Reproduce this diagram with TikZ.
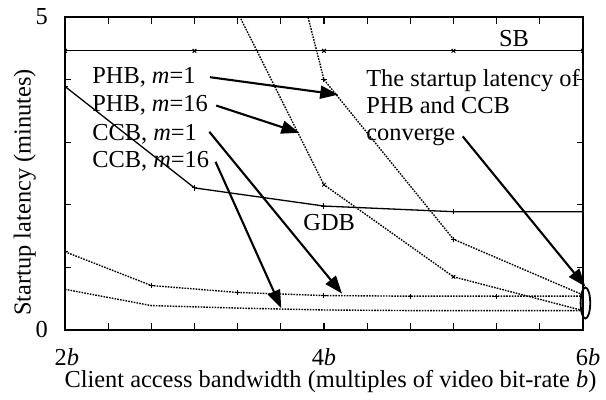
\documentclass[tikz,border=0pt]{standalone}
\usepackage{fontspec}
\setmainfont{Liberation Serif}
\usetikzlibrary{arrows.meta,shapes.geometric}
\tikzset{
  axisframe/.style={line width=0.9pt},
  tickline/.style={line width=0.6pt},
  solidcurve/.style={line width=0.65pt},
  dotcurve/.style={line width=0.7pt,dash pattern=on 0.8pt off 0.6pt},
  ptmark/.style={mark options={solid,line width=0.5pt},mark size=1.3pt},
  callout/.style={line width=1.05pt,-{Triangle[length=9pt,width=6.5pt]}},
  lab/.style={font=\fontsize{12.2}{14}\selectfont,inner sep=0pt},
  every picture/.style={x=64.75pt,y=31.3pt}
}
\begin{document}
\begin{tikzpicture}
  \useasboundingbox (1.498,-1.118) rectangle (6.178,5.272);
  % latency curves, cut off at the plot area
  \begin{scope}
    \clip (2,0) rectangle (6,5);
    \draw[solidcurve] plot[mark=x,ptmark] coordinates {(2,4.46) (3,4.46) (4,4.46) (5,4.46) (6,4.46)}; % SB
    \draw[solidcurve] plot[mark=+,ptmark] coordinates {(2,3.89) (3,2.27) (4,1.98) (5,1.89) (6,1.89)}; % GDB
    \draw[dotcurve] plot[mark=+,ptmark] coordinates {(3,12.1) (4,4.0) (5,1.45) (6,0.56)}; % PHB m=1
    \draw[dotcurve] plot[mark=x,ptmark] coordinates {(3,6.45) (4,2.32) (5,0.85) (6,0.31)}; % PHB m=16
    \draw[dotcurve] plot[mark=+,ptmark] coordinates {(2,1.25) (2.667,0.71) (3.333,0.6) (4,0.55) (4.667,0.54) (5.333,0.54) (6,0.54)}; % CCB m=1
    \draw[dotcurve] plot[mark=square,ptmark,mark size=1pt] coordinates {(2,0.65) (2.667,0.39) (3.333,0.35) (4,0.32) (4.667,0.31) (5.333,0.31) (6,0.31)}; % CCB m=16
  \end{scope}
  % axes box and ticks
  \draw[axisframe] (2,0) rectangle (6,5);
  \foreach \i in {1,...,11} {
    \draw[tickline] (2+\i/3,0) -- ++(0,3.3pt);
    \draw[tickline] (2+\i/3,5) -- ++(0,-3.3pt);
  }
  \foreach \v in {1,...,4} {
    \draw[tickline] (2,\v) -- ++(3pt,0); \draw[tickline] (6,\v) -- ++(-3pt,0);
  }
  \node[lab] (y5) at (1.82,5) {5}; \node[lab] (y0) at (1.82,0) {0};
  \node[lab] (x2) at (2.015,-0.43) {2\textit{b}};
  \node[lab] (x4) at (4,-0.43) {4\textit{b}};
  \node[lab] (x6) at (6.04,-0.43) {6\textit{b}};
  \node[lab] (xlab) at (4.05,-0.83) {Client access bandwidth (multiples of video bit-rate \textit{b})};
  \node[lab,rotate=90] (ylab) at (1.69,2.2) {Startup latency (minutes)};
  \node[lab] (sb) at (5.467,4.66) {SB};
  \node[lab] (gdb) at (4.04,1.72) {GDB};
  % curve names and their pointers
  \node[lab,anchor=base west] (phb1) at (2.208,3.94) {PHB, \textit{m}=1};
  \node[lab,anchor=base west] (phb16) at (2.208,3.487) {PHB, \textit{m}=16};
  \node[lab,anchor=base west] (ccb1) at (2.208,3.035) {CCB, \textit{m}=1};
  \node[lab,anchor=base west] (ccb16) at (2.208,2.588) {CCB, \textit{m}=16};
  \coordinate (phb1tip) at (4.11,3.76); \coordinate (phb16tip) at (3.81,3.15);
  \coordinate (ccb1tip) at (4.14,0.58); \coordinate (ccb16tip) at (3.67,0.35);
  \draw[callout] ([xshift=7pt]phb1.east) -- (phb1tip);
  \draw[callout] ([xshift=4pt]phb16.east) -- (phb16tip);
  \draw[callout] ([xshift=6pt,yshift=1pt]ccb1.east) -- (ccb1tip);
  \draw[callout] ([xshift=3pt]ccb16.east) -- (ccb16tip);
  % where the two schemes meet
  \node[lab,anchor=base west] (note1) at (4.324,3.898) {The startup latency of};
  \node[lab,anchor=base west] (note2) at (4.324,3.466) {PHB and CCB};
  \node[lab,anchor=base west] (note3) at (4.324,3.035) {converge};
  \node[draw,ellipse,inner sep=0pt,minimum width=4.8pt,minimum height=15.5pt,line width=0.9pt] (cvg) at (6.019,0.431) {};
  \draw[callout] ([xshift=3.5pt]note3.east) -- (cvg.north);
\end{tikzpicture}
\end{document}
